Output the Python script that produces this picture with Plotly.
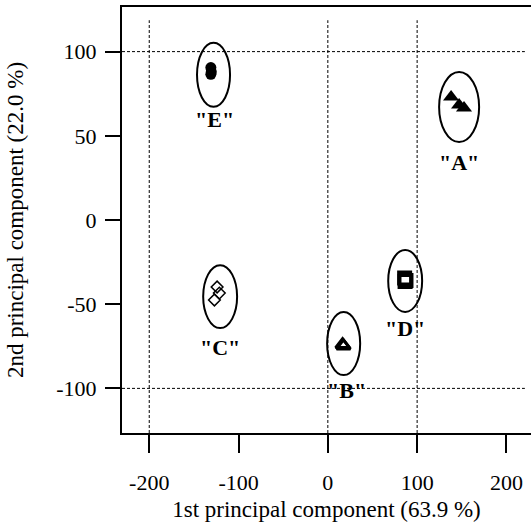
import plotly.graph_objects as go

# ---- data ----
groups = ["A", "B", "C", "D", "E"]
pc1 = {
    "A": [138, 147, 152.5],
    "B": [16.5, 17.5],
    "C": [-124, -121.5, -127],
    "D": [86, 87.5, 86.5],
    "E": [-131, -131, -130.5],
}
pc2 = {
    "A": [73, 68.3, 66.5],
    "B": [-74, -74.8],
    "C": [-39.8, -43.4, -47.5],
    "D": [-34.5, -36, -36.5],
    "E": [90.5, 86.5, 88],
}
ellipse_cx = {"A": 147, "B": 17.7, "C": -120.6, "D": 86.6, "E": -128}
ellipse_cy = {"A": 67.1, "B": -73.4, "C": -45.5, "D": -36.2, "E": 86.2}
ellipse_rx = {"A": 22.4, "B": 18.5, "C": 19, "D": 19, "E": 18.5}
ellipse_ry = {"A": 20.8, "B": 18.7, "C": 18.7, "D": 18.4, "E": 19}
label_x = {"A": 147, "B": 20.5, "C": -120.4, "D": 86.6, "E": -127}
label_y = {"A": 34, "B": -101.5, "C": -75.5, "D": -64.5, "E": 59.5}
grid_x = [-200, 0, 100]
grid_y = [-100, 100]
x_ticks = [-200, -100, 0, 100, 200]
x_tick_labels = ["-200", "-100", "0", "100", "200"]
y_ticks = [-100, -50, 0, 50, 100]
y_tick_labels = ["-100", "-50", "0", "50", "100"]
x_title = "1st principal component (63.9 %)"
y_title = "2nd principal component (22.0 %)"

# ---- styles ----
marker_style = {
    "A": dict(symbol="triangle-up", size=14, color="black", line=dict(width=0)),
    "B": dict(symbol="triangle-up-open", size=12, color="black", line=dict(width=3)),
    "C": dict(symbol="diamond-open", size=9, color="black", line=dict(width=1.5)),
    "D": dict(symbol="square-open", size=12, color="black", line=dict(width=3)),
    "E": dict(symbol="circle", size=11, color="black", line=dict(width=0)),
}

FONT = "Liberation Serif"
fig = go.Figure()

for g in groups:
    fig.add_trace(go.Scatter(x=pc1[g], y=pc2[g], mode="markers",
                             marker=marker_style[g], name=g, showlegend=False))

shapes = []
for gx in grid_x:
    shapes.append(dict(type="line", xref="x", yref="paper", x0=gx, x1=gx, y0=0, y1=0.969,
                       line=dict(color="black", width=1, dash="3px,2px"), layer="below"))
for gy in grid_y:
    shapes.append(dict(type="line", xref="paper", yref="y", x0=0, x1=0.985, y0=gy, y1=gy,
                       line=dict(color="black", width=1, dash="3px,2px"), layer="below"))
for g in groups:
    shapes.append(dict(type="circle", xref="x", yref="y",
                       x0=ellipse_cx[g] - ellipse_rx[g], x1=ellipse_cx[g] + ellipse_rx[g],
                       y0=ellipse_cy[g] - ellipse_ry[g], y1=ellipse_cy[g] + ellipse_ry[g],
                       line=dict(color="black", width=2)))

annotations = []
for g in groups:
    annotations.append(dict(x=label_x[g], y=label_y[g], xref="x", yref="y",
                            text='<b>"%s"</b>' % g, showarrow=False,
                            font=dict(family=FONT, size=22, color="black")))

fig.update_layout(
    width=531, height=524,
    margin=dict(l=122, r=0, t=7, b=91),
    paper_bgcolor="white", plot_bgcolor="white",
    font=dict(family=FONT, size=22, color="black"),
    shapes=shapes, annotations=annotations,
    xaxis=dict(range=[-230.5, 227.5], tickvals=x_ticks, ticktext=x_tick_labels,
               showgrid=False, zeroline=False,
               showline=True, mirror=True, linecolor="black", linewidth=2,
               ticks="outside", ticklen=18, tickwidth=2, tickcolor="black",
               ticklabelstandoff=11,
               tickfont=dict(family=FONT, size=22, color="black"),
               title=dict(text=x_title, font=dict(family=FONT, size=23, color="black"), standoff=6)),
    yaxis=dict(range=[-126.5, 126.5], tickvals=y_ticks, ticktext=y_tick_labels,
               showgrid=False, zeroline=False,
               showline=True, mirror=False, linecolor="black", linewidth=2,
               ticks="outside", ticklen=15, tickwidth=2, tickcolor="black",
               ticklabelstandoff=4,
               tickfont=dict(family=FONT, size=22, color="black"),
               title=dict(text=y_title, font=dict(family=FONT, size=23, color="black"), standoff=26)),
)

fig.write_html("out.html", config={"displayModeBar": False},
               post_script="document.body.style.margin='0';document.body.style.overflow='hidden';")
